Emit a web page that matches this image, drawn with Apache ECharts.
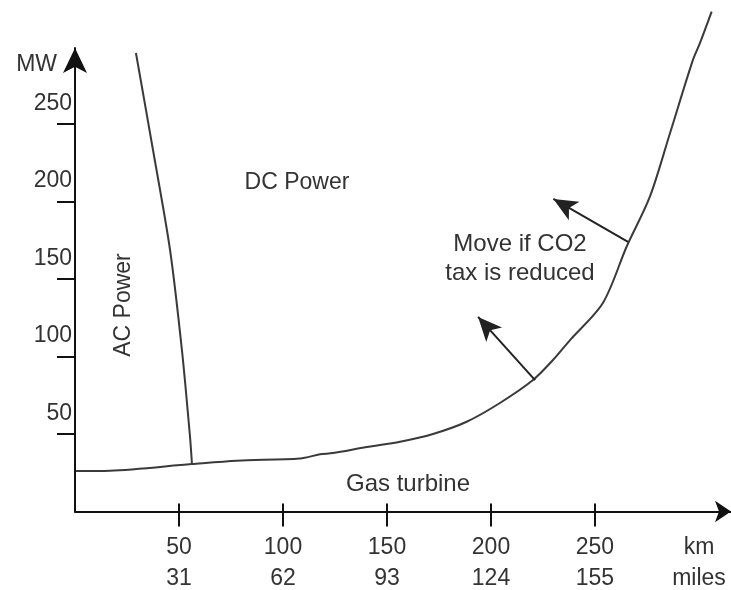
<!DOCTYPE html>
<html>
<head>
<meta charset="utf-8">
<script src="https://cdn.jsdelivr.net/npm/echarts@6/dist/echarts.min.js"></script>
<style>
html,body{margin:0;padding:0;background:#fff;}
#chart{width:731px;height:590px;}
</style>
</head>
<body>
<div id="chart"></div>
<script>
// ---- data ----
const kmTicks = [50, 100, 150, 200, 250];
const mileTicks = [31, 62, 93, 124, 155];
const yTicks = [50, 100, 150, 200, 250];

// AC / DC boundary (km, MW)
const acX = [29.3, 37.5, 45.7, 51.4, 55.3, 56.2];
const acY = [295.8, 233.2, 168.7, 104.2, 48.1, 31.3];

// Gas turbine boundary (km, MW)
const gasX = [0.5, 16.8, 56.1, 77.7, 108.2, 117.8, 124.0, 140.2, 156.3, 172.1, 188.3, 204.3, 220.2, 229.8, 238.0, 253.8, 265.2, 276.4, 286.1, 297.1, 300.5, 306.1];
const gasY = [26.1, 26.3, 30.6, 32.8, 34.2, 36.9, 37.7, 41.6, 45.0, 50.0, 57.9, 70.0, 84.8, 97.7, 110.6, 134.5, 170.8, 203.1, 244.2, 291.3, 302.3, 322.5];

// "Move if CO2 tax is reduced" arrows: start and end (km, MW)
const arrowStartX = [221.2, 265.9];
const arrowStartY = [84.8, 173.9];
const arrowEndX = [193.8, 230.0];
const arrowEndY = [125.5, 201.6];

// ---- chart ----
const FONT = 'Liberation Sans';
const TXT = '#333';
const X_MAX = 315.4;
const Y_MAX = 299;
const chart = echarts.init(document.getElementById('chart'), null, {renderer: 'canvas'});

const zip = (xs, ys) => xs.map((x, i) => [x, ys[i]]);
const xLabelValues = kmTicks.concat([300]);
const gridBox = {left: 75, right: 0, top: 48, bottom: 78.5, containLabel: false, outerBoundsMode: 'none'};

const option = {
  animation: false,
  backgroundColor: '#fff',
  grid: [Object.assign({}, gridBox), Object.assign({}, gridBox)],
  xAxis: [{
    type: 'value', min: 0, max: X_MAX, position: 'bottom', gridIndex: 0,
    axisLine: {show: true, onZero: false, lineStyle: {color: '#111', width: 2}, symbol: ['none', 'arrow'], symbolSize: [16, 16]},
    axisTick: {show: true, length: 15, lineStyle: {color: '#111', width: 2}, customValues: kmTicks},
    axisLabel: {
      show: true, customValues: xLabelValues, margin: 21,
      fontFamily: FONT, fontSize: 23, color: TXT, lineHeight: 31,
      formatter: v => {
        if (v === 300) return 'km\nmiles';
        const i = kmTicks.indexOf(v);
        return i >= 0 ? kmTicks[i] + '\n' + mileTicks[i] : '';
      }
    },
    splitLine: {show: false}
  }, {
    type: 'value', min: 0, max: X_MAX, position: 'bottom', gridIndex: 1,
    axisLine: {show: false, onZero: false},
    axisTick: {show: true, inside: true, length: 8, lineStyle: {color: '#111', width: 2}, customValues: kmTicks},
    axisLabel: {show: false, customValues: kmTicks},
    splitLine: {show: false}
  }],
  yAxis: [{
    type: 'value', min: 0, max: Y_MAX, gridIndex: 0,
    name: 'MW', nameLocation: 'end', nameGap: -17,
    nameTextStyle: {fontFamily: FONT, fontSize: 23, color: TXT, align: 'right', verticalAlign: 'middle', padding: [0, 18, 0, 0]},
    axisLine: {show: true, lineStyle: {color: '#111', width: 2}, symbol: ['none', 'arrow'], symbolSize: [18, 25]},
    axisTick: {show: true, length: 18, lineStyle: {color: '#111', width: 2}, customValues: yTicks},
    axisLabel: {
      show: true, customValues: yTicks, margin: 3,
      fontFamily: FONT, fontSize: 23, color: TXT,
      verticalAlign: 'bottom', padding: [0, 0, 9, 0]
    },
    splitLine: {show: false}
  }, {
    type: 'value', min: 0, max: Y_MAX, gridIndex: 1,
    axisLine: {show: false}, axisTick: {show: false}, axisLabel: {show: false}, splitLine: {show: false}
  }],
  series: [{
    type: 'line', name: 'AC/DC', data: zip(acX, acY), showSymbol: false, clip: false,
    xAxisIndex: 0, yAxisIndex: 0,
    smooth: 0.3, lineStyle: {color: '#3a3a3a', width: 2}
  }, {
    type: 'line', name: 'Gas turbine', data: zip(gasX, gasY), showSymbol: false, clip: false,
    xAxisIndex: 0, yAxisIndex: 0,
    smooth: 0.3, lineStyle: {color: '#3a3a3a', width: 2},
    markLine: {
      silent: true, symbol: ['none', 'arrow'], symbolSize: [16, 24],
      lineStyle: {color: '#222', width: 2, type: 'solid'},
      label: {show: false},
      data: arrowStartX.map((x, i) => [
        {coord: [x, arrowStartY[i]]},
        {coord: [arrowEndX[i], arrowEndY[i]]}
      ])
    }
  }],
  graphic: [
    {type: 'text', x: 297, y: 183, style: {text: 'DC Power', fontFamily: FONT, fontSize: 23, fill: TXT, align: 'center', verticalAlign: 'middle'}},
    {type: 'text', x: 124, y: 305, rotation: Math.PI / 2, style: {text: 'AC Power', fontFamily: FONT, fontSize: 23, fill: TXT, align: 'center', verticalAlign: 'middle'}},
    {type: 'text', x: 520, y: 259, style: {text: 'Move if CO2\ntax is reduced', fontFamily: FONT, fontSize: 24, lineHeight: 29, fill: TXT, align: 'center', verticalAlign: 'middle'}},
    {type: 'text', x: 408, y: 484, style: {text: 'Gas turbine', fontFamily: FONT, fontSize: 24, fill: TXT, align: 'center', verticalAlign: 'middle'}}
  ]
};
chart.setOption(option);
</script>
</body>
</html>
